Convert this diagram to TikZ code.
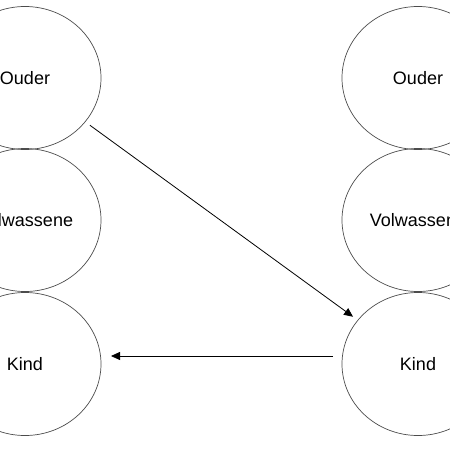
\documentclass[tikz,border=0pt]{standalone}
\usepackage{fontspec}
\setmainfont{Liberation Sans}
\usepackage{tikz}
\usetikzlibrary{arrows.meta,shapes.geometric}

\begin{document}
\begin{tikzpicture}[
                x=1pt, y=-1pt,
                font=\fontsize{18}{20}\selectfont,
                rol/.style={draw=black!70, line width=0.7pt, ellipse, inner sep=0pt, outer sep=0pt, minimum width=152pt, minimum height=143pt},
                transactie/.style={-{Triangle[length=9pt, width=8pt]}, line width=0.8pt}
            ]
            \useasboundingbox (0,0) rectangle (450,450);
            % linker persoon
            \node[rol] (ouderL) at (25,78) {Ouder};
            \node[rol] (volwL) at (25,220) {Volwassene};
            \node[rol] (kindL) at (25,364) {Kind};
            % rechter persoon
            \node[rol] (ouderR) at (418,78) {Ouder};
            \node[rol] (volwR) at (418,220) {Volwassene};
            \node[rol] (kindR) at (418,364) {Kind};
            % transacties
            \draw[transactie, shorten <=6pt, shorten >=6pt] (ouderL) -- (kindR);
            \draw[transactie, shorten <=9pt, shorten >=10pt] ([yshift=8pt]kindR.west) -- ([yshift=8pt]kindL.east);
        \end{tikzpicture}
\end{document}
